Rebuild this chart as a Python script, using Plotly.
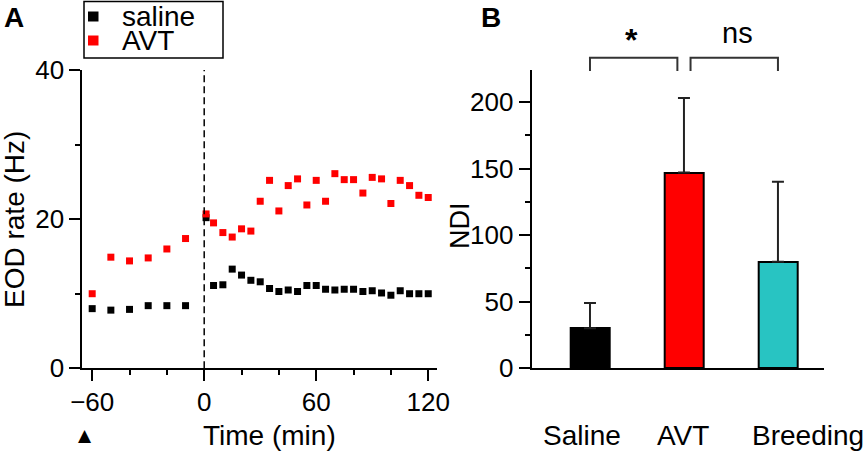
import plotly.graph_objects as go

W, H = 863, 451
FONT = "Liberation Sans, Arial, sans-serif"

# Panel A: EOD rate over time
time_min = [-60, -50, -40, -30, -20, -10, 1, 5, 10, 15, 20, 25, 30, 35, 40, 45,
            50, 55, 60, 65, 70, 75, 80, 85, 90, 95, 100, 105, 110, 115, 120]
saline_hz = [8.0, 7.8, 7.9, 8.4, 8.4, 8.4, 20.2, 11.1, 11.2, 13.3, 12.5, 11.8,
             11.6, 10.7, 10.3, 10.5, 10.3, 11.1, 11.1, 10.6, 10.5, 10.6, 10.6,
             10.3, 10.4, 10.1, 9.8, 10.4, 10.0, 10.0, 10.0]
avt_hz = [10.0, 14.9, 14.4, 14.8, 16.0, 17.4, 20.7, 19.5, 18.2, 17.6, 18.7, 18.4,
          22.4, 25.2, 21.1, 24.5, 25.4, 21.9, 25.2, 22.4, 26.1, 25.3, 25.3, 23.5,
          25.6, 25.4, 22.1, 25.2, 24.5, 23.2, 22.9]
series_names = ["saline", "AVT"]
series_colors = ["#000000", "#ff0000"]

# Panel B: NDI by group
groups = ["Saline", "AVT", "Breeding"]
ndi_mean = [30, 147, 80]
ndi_err = [19, 56, 60]
bar_colors = ["#000000", "#ff0000", "#28c4c2"]


def px_x(v):
    return v / W


def px_y(v):
    return 1 - v / H


fig = go.Figure()

for name, vals, col in zip(series_names, [saline_hz, avt_hz], series_colors):
    fig.add_trace(go.Scatter(
        x=time_min, y=vals, mode="markers", name=name,
        marker=dict(symbol="square", size=7, color=col),
        xaxis="x", yaxis="y", cliponaxis=False, showlegend=False))

fig.add_trace(go.Bar(
    x=list(range(len(groups))), y=ndi_mean, width=0.41,
    marker=dict(color=bar_colors, line=dict(color="black", width=2)),
    error_y=dict(type="data", array=ndi_err, arrayminus=[0] * len(groups),
                 symmetric=False, thickness=2, width=6, color="#222222"),
    xaxis="x2", yaxis="y2", showlegend=False))

axis_common = dict(showline=True, linewidth=2, linecolor="black", showgrid=False,
                   zeroline=False, ticks="outside", ticklen=11, tickwidth=2,
                   automargin=False, tickcolor="black",
                   tickfont=dict(family=FONT, size=26, color="black"))

ydom = [px_y(368.3), px_y(70)]

fig.update_layout(
    width=W, height=H,
    margin=dict(l=0, r=0, t=0, b=0),
    paper_bgcolor="white", plot_bgcolor="white",
    font=dict(family=FONT, color="black"),
    showlegend=False,
    xaxis=dict(axis_common, domain=[px_x(82.3), px_x(437)], range=[-65.3, 124.7],
               anchor="y", tickvals=[-60, 0, 60, 120], ticklabelstandoff=-2,
               minor=dict(dtick=20, tick0=0, ticks="outside", ticklen=5,
                          tickwidth=2, tickcolor="black")),
    yaxis=dict(axis_common, domain=ydom, range=[0, 40], anchor="x",
               tickvals=[0, 20, 40],
               minor=dict(dtick=10, tick0=0, ticks="outside", ticklen=5,
                          tickwidth=2, tickcolor="black")),
    xaxis2=dict(domain=[px_x(531.7), px_x(824)], range=[-0.62, 2.49], anchor="y2",
                showline=True, linewidth=2, linecolor="black", showgrid=False,
                zeroline=False, showticklabels=False, ticks="", automargin=False),
    yaxis2=dict(axis_common, domain=ydom, range=[0, 224], anchor="x2",
                tickvals=[0, 50, 100, 150, 200],
                minor=dict(dtick=25, tick0=0, ticks="outside", ticklen=5,
                           tickwidth=2, tickcolor="black")),
    bargap=0,
)

# dashed line at injection time
fig.add_shape(type="line", xref="x", yref="y", x0=0, x1=0, y0=0, y1=40,
              line=dict(color="black", width=1.5, dash="7px,4px"))

# significance brackets
bracket = dict(color="#333333", width=2)
fig.add_shape(type="path", xref="x2", yref="y2 domain",
              path="M 0,0.997 L 0,1.041 L 0.93,1.041 L 0.93,0.997", line=bracket)
fig.add_shape(type="path", xref="x2", yref="y2 domain",
              path="M 1.07,0.997 L 1.07,1.041 L 2,1.041 L 2,0.997", line=bracket)

# legend box for panel A, drawn by hand
fig.add_shape(type="rect", xref="paper", yref="paper",
              x0=px_x(84), x1=px_x(223), y0=px_y(58), y1=px_y(1.5),
              line=dict(color="black", width=1.5), fillcolor="white")
ann = []
leg_y = [16.5, 40.5]
for name, col, ly in zip(series_names, series_colors, leg_y):
    fig.add_shape(type="rect", xref="paper", yref="paper",
                  x0=px_x(88), x1=px_x(98.5), y0=px_y(ly + 5), y1=px_y(ly - 5),
                  line=dict(width=0), fillcolor=col)
    ann.append(dict(text=name, x=px_x(120), y=px_y(ly), xanchor="left",
                    yanchor="middle", font=dict(size=28)))

ann.append(dict(text="<b>A</b>", x=px_x(2), y=px_y(17), xanchor="left",
                yanchor="middle", font=dict(size=28)))
ann.append(dict(text="<b>B</b>", x=px_x(479), y=px_y(17), xanchor="left",
                yanchor="middle", font=dict(size=28)))
ann.append(dict(text="EOD rate (Hz)", x=px_x(14), y=px_y(220), textangle=-90,
                xanchor="center", yanchor="middle", font=dict(size=28)))
ann.append(dict(text="Time (min)", x=px_x(269), y=px_y(435), xanchor="center",
                yanchor="middle", font=dict(size=28)))
ann.append(dict(text="\u25B2", x=px_x(85), y=px_y(435), xanchor="center",
                yanchor="middle", font=dict(size=17, family="DejaVu Sans")))
ann.append(dict(text="NDI", x=px_x(460), y=px_y(225), textangle=-90,
                xanchor="center", yanchor="middle", font=dict(size=27)))
ann.append(dict(text="<b>*</b>", x=px_x(631), y=px_y(40), xanchor="center",
                yanchor="middle", font=dict(size=32)))
ann.append(dict(text="ns", x=px_x(737), y=px_y(33), xanchor="center",
                yanchor="middle", font=dict(size=29)))
# category labels
label_x = [582, 682.5, 750]
label_anchor = ["center", "center", "left"]
for name, lx, anc in zip(groups, label_x, label_anchor):
    ann.append(dict(text=name, x=px_x(lx), y=px_y(435), xanchor=anc,
                    yanchor="middle", font=dict(size=28)))

for a in ann:
    a.update(xref="paper", yref="paper", showarrow=False)
    a["font"] = dict(a["font"], color="black")
    a["font"].setdefault("family", FONT)
fig.update_layout(annotations=ann)

# drop the default page margin so the figure sits at the window's corner
fig.write_html("out.html", config={"displayModeBar": False},
               post_script="document.body.style.margin = '0';")
